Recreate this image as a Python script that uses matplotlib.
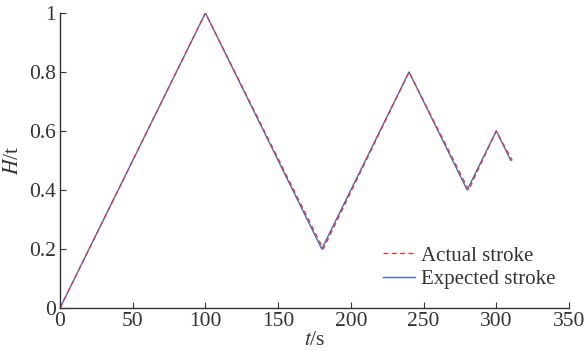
import matplotlib
matplotlib.use('Agg')
import matplotlib.pyplot as plt

# expected stroke turning points
t_expected = [0, 100, 180, 240, 280, 300, 310]
h_expected = [0, 1.0, 0.2, 0.8, 0.4, 0.6, 0.5]

# actual stroke lags a touch on the falling parts
t_actual = [0, 100, 181, 240, 281, 300, 311]
h_actual = [0, 1.0, 0.2, 0.8, 0.4, 0.6, 0.5]

plt.rcParams['font.family'] = ['Liberation Serif', 'DejaVu Serif']
plt.rcParams['mathtext.fontset'] = 'stix'

fig = plt.figure(figsize=(5.85, 3.51), dpi=100)
ax = fig.add_axes([0.1026, 0.1225, 0.870, 0.8405])

ax.plot(t_expected, h_expected, color='#3a6fc4', lw=1.0, label='Expected stroke')
ax.plot(t_actual, h_actual, color='#e8393f', lw=1.0, ls=(0, (3.5, 2.5)), label='Actual stroke')

ax.set_xlim(0, 350)
ax.set_ylim(0, 1)
ax.set_xticks([0, 50, 100, 150, 200, 250, 300, 350])
ax.set_yticks([0, 0.2, 0.4, 0.6, 0.8, 1])
ax.set_yticklabels(['0', '0.2', '0.4', '0.6', '0.8', '1'])
ax.tick_params(direction='in', labelsize=15.5, length=4, color='#333333', labelcolor='#333333', pad=3)
ax.spines['top'].set_visible(False)
ax.spines['right'].set_visible(False)
for s in ['left', 'bottom']:
    ax.spines[s].set_color('#333333')
    ax.spines[s].set_linewidth(1.0)

ax.set_xlabel('$t$/s', fontsize=15.5, color='#333333', labelpad=0)
ax.set_ylabel('$H$/t', fontsize=15.5, color='#333333', labelpad=4)

handles, labels = ax.get_legend_handles_labels()
ax.legend(handles[::-1], labels[::-1], loc='lower right', bbox_to_anchor=(1.01, 0.0),
          frameon=False, fontsize=15, handlelength=1.5, handletextpad=0.3,
          labelspacing=0.2, labelcolor='#333333')

fig.savefig('out.png', dpi=100)
